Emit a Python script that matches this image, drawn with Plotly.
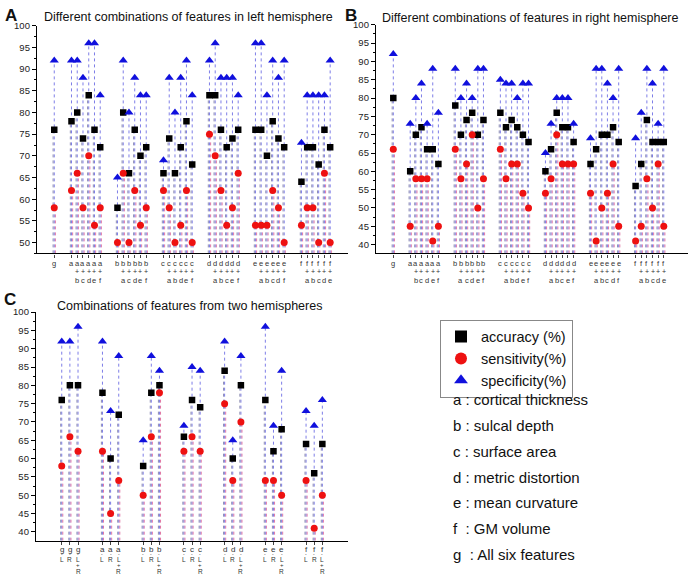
import plotly.graph_objects as go

# ---------------- data ----------------
A_combos = ["g",
            "a", "a+b", "a+c", "a+d", "a+e", "a+f",
            "b", "b+a", "b+c", "b+d", "b+e", "b+f",
            "c", "c+a", "c+b", "c+d", "c+e", "c+f",
            "d", "d+a", "d+b", "d+c", "d+e", "d+f",
            "e", "e+a", "e+b", "e+c", "e+d", "e+f",
            "f", "f+a", "f+b", "f+c", "f+d", "f+e"]
B_combos = list(A_combos)

A_acc = [76,
         78, 80, 74, 84, 76, 72,
         58, 80, 66, 76, 70, 72,
         66, 74, 66, 72, 78, 68,
         84, 84, 76, 72, 74, 76,
         76, 76, 70, 78, 74, 72,
         64, 72, 72, 68, 76, 72]
A_sens = [58,
          62, 66, 58, 70, 54, 58,
          50, 66, 50, 62, 54, 58,
          62, 58, 50, 54, 62, 50,
          75, 70, 62, 54, 58, 66,
          54, 54, 54, 62, 58, 50,
          54, 58, 58, 50, 66, 50]
A_spec = [92,
          92, 92, 88, 96, 96, 84,
          65, 92, 80, 88, 84, 84,
          69, 88, 80, 88, 92, 84,
          92, 96, 88, 88, 88, 84,
          96, 96, 84, 92, 88, 92,
          73, 84, 84, 84, 84, 92]

B_acc = [80,
         60, 70, 72, 66, 66, 62,
         78, 70, 74, 76, 70, 74,
         76, 72, 74, 72, 70, 68,
         60, 66, 76, 72, 72, 68,
         62, 66, 70, 70, 72, 68,
         56, 62, 74, 68, 68, 68]
B_sens = [66,
          45, 58, 58, 58, 41, 45,
          66, 58, 62, 70, 50, 58,
          66, 58, 62, 62, 54, 50,
          54, 58, 70, 62, 62, 62,
          54, 41, 50, 54, 62, 45,
          41, 45, 58, 50, 62, 45]
B_spec = [92,
          73, 80, 84, 73, 88, 76,
          88, 80, 84, 80, 88, 88,
          85, 84, 84, 80, 84, 84,
          65, 73, 80, 80, 80, 73,
          69, 88, 88, 84, 80, 88,
          69, 76, 88, 84, 73, 88]

C_combos = ["g-L", "g-R", "g-L+R",
            "a-L", "a-R", "a-L+R",
            "b-L", "b-R", "b-L+R",
            "c-L", "c-R", "c-L+R",
            "d-L", "d-R", "d-L+R",
            "e-L", "e-R", "e-L+R",
            "f-L", "f-R", "f-L+R"]
C_acc = [76, 80, 80, 78, 60, 72, 58, 78, 80, 66, 76, 74,
         84, 60, 80, 76, 62, 68, 64, 56, 64]
C_sens = [58, 66, 62, 62, 45, 54, 50, 66, 78, 62, 66, 62,
          75, 54, 70, 54, 54, 50, 54, 41, 50]
C_spec = [92, 92, 96, 92, 73, 88, 65, 88, 84, 69, 85, 84,
          92, 65, 88, 96, 69, 84, 73, 69, 76]

feature_keys = ["a : cortical thickness", "b : sulcal depth", "c : surface area",
                "d : metric distortion", "e : mean curvature", "f  : GM volume",
                "g  : All six features"]
series_names = ["accuracy (%)", "sensitivity(%)", "specificity(%)"]

# ---------------- helpers ----------------
FONT = "Arial, Liberation Sans, sans-serif"
W, H = 688, 576


def px(x):
    return x / W


def py(y):
    return 1 - y / H


def positions_ab(n_groups=6, gsize=6):
    xs = [1]
    for g in range(n_groups):
        start = 4 + g * (gsize + 2)
        xs += [start + i for i in range(gsize)]
    return xs


def positions_c(n_groups=7, gsize=3):
    xs = []
    for g in range(n_groups):
        start = 1 + g * (gsize + 2)
        xs += [start + i for i in range(gsize)]
    return xs


def rows_ab(c):
    if "+" in c:
        a, b = c.split("+")
        return [a, "+", b]
    return [c]


def rows_c(c):
    a, rest = c.split("-")
    if "+" in rest:
        l, r = rest.split("+")
        return [a, "-", l, "+", r]
    return [a, "-", rest]


def drops(xs, vals, base, off):
    X, Y = [], []
    for x, v in zip(xs, vals):
        X += [x + off, x + off, None]
        Y += [base, v, None]
    return X, Y


fig = go.Figure()

panels = [
    dict(ax="x", ay="y", xs=positions_ab(), acc=A_acc, sens=A_sens, spec=A_spec,
         base=47.5, off=0.2, legend=True),
    dict(ax="x2", ay="y2", xs=positions_ab(), acc=B_acc, sens=B_sens, spec=B_spec,
         base=37.6, off=0.2, legend=False),
    dict(ax="x3", ay="y3", xs=positions_c(), acc=C_acc, sens=C_sens, spec=C_spec,
         base=37.6, off=0.13, legend=False),
]

line_cols = {"spec": "#6f6fe4", "acc": "#8080aa", "sens": "#dc6a9c"}
for p in panels:
    for key, off in (("spec", 0.0), ("acc", -p["off"]), ("sens", p["off"])):
        X, Y = drops(p["xs"], p[key], p["base"], off)
        fig.add_trace(go.Scatter(x=X, y=Y, mode="lines", xaxis=p["ax"], yaxis=p["ay"],
                                 line=dict(color=line_cols[key], width=0.9, dash="dot"),
                                 showlegend=False, hoverinfo="skip"))
    fig.add_trace(go.Scatter(x=p["xs"], y=p["acc"], mode="markers", name=series_names[0],
                             xaxis=p["ax"], yaxis=p["ay"], showlegend=p["legend"],
                             marker=dict(symbol="square", size=6.5, color="black")))
    fig.add_trace(go.Scatter(x=p["xs"], y=p["sens"], mode="markers", name=series_names[1],
                             xaxis=p["ax"], yaxis=p["ay"], showlegend=p["legend"],
                             marker=dict(symbol="circle", size=7, color="#ee1111")))
    fig.add_trace(go.Scatter(x=p["xs"], y=p["spec"], mode="markers", name=series_names[2],
                             xaxis=p["ax"], yaxis=p["ay"], showlegend=p["legend"],
                             marker=dict(symbol="triangle-up", size=8, color="#1010dd")))


def xax(domain, rng, xs):
    return dict(domain=domain, range=rng, showgrid=False, zeroline=False,
                showline=True, linecolor="black", linewidth=1.3,
                tickmode="array", tickvals=xs, showticklabels=False,
                ticks="outside", ticklen=3, tickcolor="#444", tickwidth=1)


def yax(domain, rng, anchor):
    return dict(domain=domain, range=rng, anchor=anchor, showgrid=False, zeroline=False,
                showline=True, linecolor="black", linewidth=1.3,
                tickmode="linear", tick0=40, dtick=5,
                ticks="outside", ticklen=4, tickcolor="black", tickwidth=1,
                minor=dict(ticks="outside", ticklen=2, dtick=2.5, tick0=40, tickcolor="black"),
                tickfont=dict(family=FONT, size=9.5, color="#222"))


fig.update_layout(
    width=W, height=H, margin=dict(l=0, r=0, t=0, b=0),
    plot_bgcolor="white", paper_bgcolor="white",
    xaxis=dict(**xax([px(37), px(348)], [-2.0, 52.1], positions_ab()), anchor="y"),
    yaxis=yax([py(250), py(20)], [47.5, 100], "x"),
    xaxis2=dict(**xax([px(376), 1.0], [-2.07, 53.3], positions_ab()), anchor="y2"),
    yaxis2=yax([py(250), py(19)], [37.6, 100], "x2"),
    xaxis3=dict(**xax([px(36), px(348)], [-2.16, 36.15], positions_c()), anchor="y3"),
    yaxis3=yax([py(540.3), py(309.3)], [37.6, 100], "x3"),
    legend=dict(x=px(440), y=py(317), xanchor="left", yanchor="top",
                bordercolor="#888", borderwidth=1, bgcolor="white",
                font=dict(family=FONT, size=14.5, color="#111"),
                itemsizing="constant", tracegroupgap=0),
    showlegend=True,
)

ann = []


def text(x, y, s, size, bold=False, xanchor="center", xref="paper", color="#111", pad=1):
    ann.append(dict(x=px(x) if xref == "paper" else x, y=py(y), xref=xref, yref="paper",
                    text=("<b>%s</b>" % s) if bold else s, borderpad=pad,
                    showarrow=False, xanchor=xanchor, yanchor="middle",
                    font=dict(family=FONT, size=size, color=color)))


text(188, 11, "Different combinations of features in left hemisphere", 12.5)
text(530, 12, "Different combinations of features in right hemisphere", 12.5)
text(189, 303, "Combinations of features from two hemispheres", 12.5)
text(3, 10, "A", 17, bold=True, xanchor="left")
text(343, 10, "B", 17, bold=True, xanchor="left")
text(2, 297, "C", 17, bold=True, xanchor="left")

for i, k in enumerate(feature_keys):
    text(451, 398 + i * 26, k, 15, xanchor="left")

# category labels under the x axes (stacked rows)
ab_rows_y = [260, 268.5, 277]
ab_sizes = [7.5, 7, 7.5]
for xref, combos in (("x", A_combos), ("x2", B_combos)):
    for x, c in zip(positions_ab(), combos):
        for j, s in enumerate(rows_ab(c)):
            text(x, ab_rows_y[j], s, ab_sizes[j], xref=xref, color="#333", pad=0)

c_rows_y = [549.5, 554, 559, 565, 571.5]
c_sizes = [8, 5, 6.5, 6, 6.5]
for x, c in zip(positions_c(), C_combos):
    for j, s in enumerate(rows_c(c)):
        text(x, c_rows_y[j], s, c_sizes[j], xref="x3", color="#333", pad=0)

fig.update_layout(annotations=ann)
fig.write_html("out.html",
               config={"displayModeBar": False},
               post_script="document.body.style.margin='0px';"
                           "document.body.style.overflow='hidden';")
